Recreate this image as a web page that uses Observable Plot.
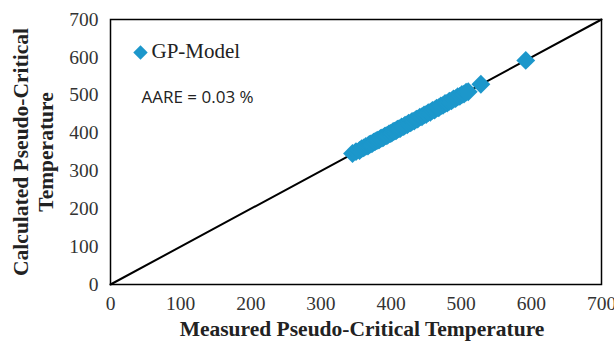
<!DOCTYPE html>
<html>
<head>
<meta charset="utf-8">
<script src="https://cdn.jsdelivr.net/npm/d3@7"></script>
<script src="https://cdn.jsdelivr.net/npm/@observablehq/plot@0.6"></script>
<style>
  html, body { margin: 0; padding: 0; background: #fff; }
  #chart svg { display: block; }
</style>
</head>
<body>
<div id="chart"></div>
<script>
// Measured vs calculated pseudo-critical temperature (GP-Model)
const measured = [345, 350, 355, 358, 361, 364, 367, 369, 371, 373, 375, 377, 379, 381, 383, 385, 387, 389, 391, 393, 395, 397, 399, 401, 403, 405, 407, 409, 411, 413, 415, 418, 420, 423, 425, 428, 430, 433, 436, 438, 441, 444, 447, 450, 453, 456, 459, 462, 465, 468, 471, 474, 477, 480, 483, 486, 489, 492, 495, 498, 501, 504, 507, 510, 528, 592];
const calculated = [346, 351, 354, 359, 361, 365, 366, 370, 371, 372, 376, 377, 380, 381, 382, 386, 387, 388, 392, 393, 394, 398, 399, 400, 404, 405, 406, 410, 411, 412, 416, 417, 421, 422, 426, 427, 431, 432, 437, 437, 442, 443, 448, 449, 454, 455, 460, 461, 466, 467, 472, 473, 478, 479, 484, 485, 490, 491, 496, 497, 502, 503, 508, 509, 529, 592];
const identity = [0, 700];
const xTicks = [0, 100, 200, 300, 400, 500, 600, 700];
const yTicks = [0, 100, 200, 300, 400, 500, 600, 700];
const seriesName = "GP-Model";
const aareText = "AARE = 0.03 %";
const xTitle = "Measured Pseudo-Critical Temperature";
const yTitle = "Calculated Pseudo-Critical\nTemperature";

const points = measured.map((m, i) => ({m, c: calculated[i]}));
const blue = "#1C97CB";
const serif = "Liberation Serif, Times New Roman, serif";

const chart = Plot.plot({
  width: 614,
  height: 341,
  marginLeft: 110,
  marginRight: 13,
  marginTop: 19,
  marginBottom: 57,
  style: "font-family: 'Liberation Serif', serif; font-size: 19.5px; background: #fff;",
  x: {domain: [0, 700], axis: null},
  y: {domain: [0, 700], axis: null},
  marks: [
    Plot.text(xTicks, {x: d => d, frameAnchor: "bottom", dy: 19, text: d => String(d), lineAnchor: "middle", textAnchor: "middle", fontSize: 19.5, fontFamily: serif, fill: "#333"}),
    Plot.text(yTicks, {y: d => d, frameAnchor: "left", dx: -12, text: d => String(d), lineAnchor: "middle", textAnchor: "end", fontSize: 19.5, fontFamily: serif, fill: "#333"}),
    Plot.line(identity, {x: d => d, y: d => d, stroke: "black", strokeWidth: 2}),
    Plot.dot(points, {x: "m", y: "c", symbol: "diamond2", r: 8.5, fill: blue, stroke: "none"}),
    Plot.frame({stroke: "black", strokeWidth: 1.5}),
    Plot.dot([seriesName], {frameAnchor: "top-left", dx: 30, dy: 33, symbol: "diamond2", r: 6.5, fill: blue, stroke: "none"}),
    Plot.text([seriesName], {frameAnchor: "top-left", dx: 41, dy: 32, text: d => d, textAnchor: "start", lineAnchor: "middle", fontSize: 21, fontFamily: serif, fill: "#222"}),
    Plot.text([aareText], {frameAnchor: "top-left", dx: 31, dy: 78, text: d => d, textAnchor: "start", lineAnchor: "middle", fontSize: 17, fontFamily: "Open Sans, sans-serif", fill: "#222"}),
    Plot.text([xTitle], {frameAnchor: "bottom", dx: 6, dy: 45, text: d => d, lineAnchor: "middle", fontSize: 21.5, fontWeight: "bold", fontFamily: serif, fill: "#222"}),
    Plot.text([yTitle], {frameAnchor: "left", dx: -78, rotate: -90, text: d => d, textAnchor: "middle", lineAnchor: "middle", lineHeight: 1.16, fontSize: 21.5, fontWeight: "bold", fontFamily: serif, fill: "#222"})
  ]
});
document.getElementById("chart").appendChild(chart);
</script>
</body>
</html>
